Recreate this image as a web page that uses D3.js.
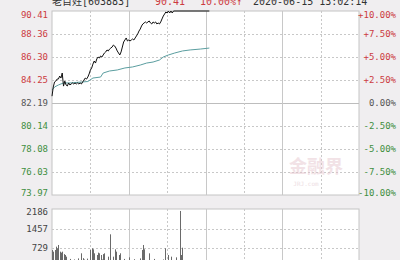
<!DOCTYPE html>
<html>
<head>
<meta charset="utf-8">
<script src="https://cdn.jsdelivr.net/npm/d3@7"></script>
<style>
  body { margin: 0; background: #f0eef0; }
  svg { display: block; }
  text { font-family: "DejaVu Sans Mono", "Noto Sans CJK SC", monospace; }
</style>
</head>
<body>
<svg id="chart" width="400" height="260"></svg>
<script>
// header
const stockName = '老百姓[603883]';
const lastPrice = '90.41';
const lastPct = '10.00%↑';
const timeStamp = '2020-06-15 13:02:14';

// axis labels
const prevClose = 82.19;
const priceTicks = [90.41, 88.36, 86.30, 84.25, 82.19, 80.14, 78.08, 76.03, 73.97];
const pctTicks = ['+10.00%', '+7.50%', '+5.00%', '+2.50%', '0.00%', '-2.50%', '-5.00%', '-7.50%', '-10.00%'];
const volTicks = [2186, 1457, 729];
const gridMinutes = [30, 60, 90, 120, 150, 180, 210];

// minute price
const priceMin = [0, 1, 2, 3, 4, 5, 6, 7, 8, 9, 10, 11, 12, 13, 14, 15, 16, 17, 18, 19, 20,
  21, 22, 23, 24, 25, 26, 27, 28, 29, 30, 31, 32, 33, 34, 35, 36, 37, 38, 39, 40,
  41, 42, 43, 44, 45, 46, 47, 48, 49, 50, 51, 52, 53, 54, 55, 56, 57, 58, 59, 60,
  61, 62, 63, 64, 65, 66, 67, 68, 69, 70, 71, 72, 73, 74, 75, 76, 77, 78, 79, 80,
  81, 82, 83, 84, 85, 86, 87, 88, 89, 90, 91, 92, 93, 94, 95, 123];
const priceVal = [82.80, 83.62, 84.07, 84.15, 84.33, 84.33, 84.60, 84.42, 84.87, 83.70, 84.15,
  83.80, 83.71, 83.98, 83.80, 83.89, 83.98, 83.89, 83.98, 83.89, 83.98,
  83.89, 83.98, 83.89, 84.07, 84.24, 84.42, 84.33, 84.51, 84.78, 85.13,
  85.31, 85.67, 85.94, 85.76, 86.12, 86.30, 86.21, 86.39, 86.30, 86.48,
  86.66, 86.75, 86.93, 86.84, 87.01, 87.10, 87.19, 87.37, 87.28, 87.10,
  86.84, 86.66, 86.48, 86.75, 87.19, 87.64, 87.82, 88.00, 87.73, 87.82,
  87.73, 87.82, 87.91, 87.82, 88.00, 88.18, 88.36, 88.62, 88.80, 89.07,
  89.25, 89.34, 89.43, 89.34, 89.43, 89.52, 89.34, 89.25, 89.43, 89.34,
  89.43, 89.25, 89.34, 89.25, 89.43, 89.70, 89.96, 90.14, 90.32, 90.23,
  90.41, 90.23, 90.41, 90.23, 90.41, 90.41];

// average price line
const avgMin = [0, 2, 5, 9, 14, 24, 28, 32, 38, 40, 45, 51, 57, 63, 69, 74, 79, 84, 87, 91, 96, 102, 108, 116, 123];
const avgVal = [83.35, 83.62, 83.80, 83.98, 83.98, 84.07, 84.11, 84.42, 84.51, 84.87, 85.05, 85.14,
  85.32, 85.41, 85.58, 85.76, 85.85, 86.03, 86.30, 86.48, 86.66, 86.84, 86.93, 87.01, 87.10];

// volume bars (only the ones that reach into view)
const volMin = [0, 1, 2, 3, 4, 5, 6, 7, 8, 9, 10, 11, 14, 17, 20, 23, 24, 25, 27, 30, 31, 32, 33, 35, 36,
  37, 38, 39, 40, 41, 44, 45, 48, 49, 50, 52, 53, 56, 60, 64, 69, 70, 71, 72, 76, 80, 87, 88, 91, 93,
  97, 100, 101, 102];
const volVal = [654, 592, 654, 779, 717, 841, 592, 555, 592, 500, 467, 405, 320, 300, 340, 530, 350, 300,
  330, 654, 717, 680, 530, 467, 555, 530, 467, 300, 500, 530, 405, 1240, 405, 680, 592, 467, 530, 320,
  380, 310, 340, 654, 841, 680, 530, 320, 300, 717, 467, 405, 380, 2112, 467, 740, 530];

const svg = d3.select('#chart');
const left = 52, right = 359;
const pTop = 11, pBot = 195;
const vTop = 209, vBot = 267.5;

const x = d3.scaleLinear().domain([0, 240]).range([left, right]);
const y = d3.scaleLinear().domain([73.97, 90.41]).range([pBot, pTop]);
const yv = d3.scaleLinear().domain([0, 2186]).range([vBot, vTop]);

const red = '#cc3b3f', green = '#3f8f3f', gray = '#555';
const colorOf = p => p > prevClose + 0.001 ? red : (p < prevClose - 0.001 ? green : gray);

// panels
svg.append('rect').attr('x', left).attr('y', pTop).attr('width', right - left).attr('height', pBot - pTop)
  .attr('fill', '#fff').attr('stroke', '#c4c4c4');
svg.append('rect').attr('x', left).attr('y', vTop).attr('width', right - left).attr('height', 70)
  .attr('fill', '#fff').attr('stroke', '#c4c4c4');

// gridlines price panel
svg.append('g').selectAll('line').data(priceTicks.slice(1, -1)).join('line')
  .attr('x1', left).attr('x2', right)
  .attr('y1', d => Math.round(y(d)) + 0.5).attr('y2', d => Math.round(y(d)) + 0.5)
  .attr('stroke', d => d === prevClose ? '#bdbdbd' : '#c8c8c8')
  .attr('stroke-dasharray', d => d === prevClose ? null : '2,2');

[[pTop, pBot], [vTop, 260]].forEach(([t, b]) => {
  svg.append('g').selectAll('line').data(gridMinutes).join('line')
    .attr('x1', d => Math.round(x(d)) + 0.5).attr('x2', d => Math.round(x(d)) + 0.5)
    .attr('y1', t).attr('y2', b)
    .attr('stroke', '#c8c8c8')
    .attr('stroke-dasharray', d => d % 60 === 0 ? null : '2,2');
});

// gridlines volume panel
svg.append('g').selectAll('line').data(volTicks.slice(1)).join('line')
  .attr('x1', left).attr('x2', right)
  .attr('y1', d => Math.round(yv(d)) + 0.5).attr('y2', d => Math.round(yv(d)) + 0.5)
  .attr('stroke', '#c8c8c8').attr('stroke-dasharray', '2,2');

// watermark
const wm = svg.append('g').attr('opacity', 0.5);
wm.append('text').attr('x', 316).attr('y', 173).attr('text-anchor', 'middle')
  .style('font-family', '"Noto Sans CJK SC"').style('font-weight', 'bold').style('font-size', '18px')
  .attr('fill', '#e6c6ce').text('金融界');
wm.append('text').attr('x', 306).attr('y', 186).attr('text-anchor', 'middle')
  .style('font-size', '6px').attr('fill', '#dcc0c8').text('JRJ.com');

// volume bars
svg.append('g').selectAll('line').data(volMin.map((m, i) => ({ m, v: volVal[i] }))).join('line')
  .attr('x1', d => Math.round(x(d.m)) + 0.5).attr('x2', d => Math.round(x(d.m)) + 0.5)
  .attr('y1', 262).attr('y2', d => yv(d.v))
  .attr('stroke', '#6a6a6a').attr('stroke-width', 1);

// lines
const line = d3.line().x(d => x(d[0])).y(d => y(d[1]));
svg.append('path').datum(avgMin.map((m, i) => [m, avgVal[i]]))
  .attr('d', line).attr('fill', 'none').attr('stroke', '#5b9ea0').attr('stroke-width', 1);
svg.append('path').datum(priceMin.map((m, i) => [m, priceVal[i]]))
  .attr('d', line).attr('fill', 'none').attr('stroke', '#111').attr('stroke-width', 1);

// left price labels, right percent labels, volume labels
const lab = svg.append('g').style('font-size', '9px');
const shift = i => i === 0 ? 3.5 : (i === priceTicks.length - 1 ? -2 : 0);
lab.selectAll('.pl').data(priceTicks).join('text').attr('class', 'pl')
  .attr('x', 48).attr('y', (d, i) => y(d) + shift(i)).attr('dy', '0.35em')
  .attr('text-anchor', 'end').attr('fill', d => colorOf(d)).text(d => d.toFixed(2));
lab.selectAll('.pr').data(pctTicks).join('text').attr('class', 'pr')
  .attr('x', 396).attr('y', (d, i) => y(priceTicks[i]) + shift(i)).attr('dy', '0.35em')
  .attr('text-anchor', 'end').attr('fill', (d, i) => colorOf(priceTicks[i])).text(d => d);
lab.selectAll('.vl').data(volTicks).join('text').attr('class', 'vl')
  .attr('x', 48).attr('y', (d, i) => yv(d) + (i === 0 ? 3 : 0)).attr('dy', '0.35em')
  .attr('text-anchor', 'end').attr('fill', '#444').text(d => d);

// header, cut off at the top like the source image
const hd = svg.append('g').style('font-size', '10px');
hd.append('text').attr('x', 52).attr('y', 5).attr('fill', '#333').text(stockName);
hd.append('text').attr('x', 155).attr('y', 5).attr('fill', red).text(lastPrice);
hd.append('text').attr('x', 200).attr('y', 5).attr('fill', red).text(lastPct);
hd.append('text').attr('x', 253).attr('y', 5).attr('fill', '#333').text(timeStamp);
</script>
</body>
</html>
